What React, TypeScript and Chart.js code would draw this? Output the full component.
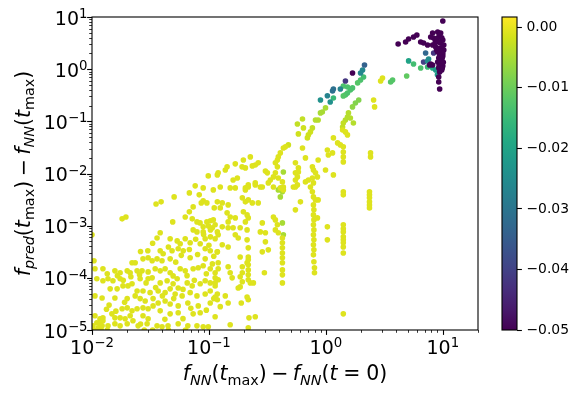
import React, { useEffect, useRef } from 'react';
import { Chart, registerables } from 'chart.js';

Chart.register(...registerables);

const FONT = '"DejaVu Sans", sans-serif';
const VMIN = -0.05;
const VMAX = 0.0017;
const yellowC = -0.0008;
const purpleC = -0.06;

const xTickExps = [-2, -1, 0, 1];
const yTickExps = [-5, -4, -3, -2, -1, 0, 1];
const cbTicks = [0, -0.01, -0.02, -0.03, -0.04, -0.05];
const cbTickLabels = ['0.00', '\u22120.01', '\u22120.02', '\u22120.03', '\u22120.04', '\u22120.05'];

// yellow cloud, lower left
const cloudPoints: number[][] = [
  [0.0987, 9.0e-3], [0.118, 9.4e-3], [0.120, 1.03e-2], [0.0763, 5.8e-3], [0.0893, 5.3e-3], [0.068, 4.25e-3], [0.0826, 3.9e-3], [0.109, 4.85e-3], [0.0504, 3.56e-3], [0.086, 2.73e-3],
  [0.0893, 2.99e-3], [0.096, 2.73e-3], [0.039, 2.86e-3], [0.0353, 2.6e-3], [0.0733, 2.29e-3], [0.111, 2.19e-3], [0.068, 1.84e-3], [0.0627, 1.47e-3], [0.072, 1.35e-3], [0.049, 1.18e-3],
  [0.079, 1.18e-3], [0.084, 1.13e-3], [0.096, 1.18e-3], [0.103, 1.24e-3], [0.109, 1.29e-3], [0.0181, 1.35e-3], [0.0195, 1.47e-3], [0.0893, 9.5e-4], [0.099, 9.9e-4], [0.107, 9.1e-4],
  [0.113, 1.04e-3], [0.0733, 8.3e-4], [0.079, 7.6e-4], [0.0893, 7.6e-4], [0.103, 8.3e-4], [0.118, 7.6e-4], [0.0383, 7.3e-4], [0.103, 6.1e-4], [0.010, 6.7e-4],
  [0.036, 5.8e-4], [0.0466, 5.6e-4], [0.0535, 5.1e-4], [0.0627, 5.6e-4], [0.0691, 4.7e-4], [0.0929, 5.6e-4], [0.113, 5.6e-4], [0.0842, 4.5e-4], [0.0568, 4.5e-4],
  [0.0484, 3.3e-4], [0.0546, 3.6e-4], [0.0603, 3.3e-4], [0.0383, 3.3e-4], [0.0406, 2.9e-4], [0.0691, 2.42e-4], [0.0273, 2.31e-4], [0.0302, 2.42e-4], [0.0327, 2.12e-4], [0.022, 1.94e-4],
  [0.0234, 1.94e-4], [0.036, 2.31e-4], [0.0397, 2.12e-4], [0.0466, 2.31e-4], [0.0929, 3.6e-4], [0.1026, 3.3e-4], [0.118, 3.15e-4], [0.0929, 2.31e-4], [0.107, 1.85e-4], [0.0104, 2.12e-4], [0.0106, 1.49e-4],
  [0.0157, 1.36e-4], [0.0174, 1.25e-4], [0.020, 1.36e-4], [0.0212, 1.25e-4], [0.0243, 1.36e-4], [0.0268, 1.36e-4], [0.0302, 1.3e-4],
  [0.0347, 1.49e-4], [0.0383, 1.36e-4], [0.0422, 1.49e-4], [0.0466, 1.25e-4], [0.0494, 1.09e-4], [0.0535, 9.6e-5], [0.0568, 1.49e-4], [0.0627, 1.36e-4], [0.0733, 1.49e-4], [0.081, 1.56e-4],
  [0.0893, 1.7e-4], [0.1026, 1.49e-4], [0.113, 1.25e-4], [0.120, 1.49e-4],
  [0.011, 9.6e-5], [0.0124, 8.8e-5], [0.0137, 9.6e-5], [0.0151, 8.8e-5], [0.0174, 9.6e-5], [0.0184, 7.0e-5], [0.0203, 7.0e-5], [0.022, 7.7e-5], [0.0258, 9.6e-5], [0.0302, 9.6e-5],
  [0.0327, 1.0e-4], [0.0383, 8.0e-5], [0.0439, 8.8e-5], [0.0494, 7.7e-5], [0.0546, 6.4e-5], [0.0652, 8.0e-5], [0.0719, 7.0e-5], [0.0842, 7.7e-5], [0.0929, 8.8e-5], [0.1026, 8.0e-5], [0.113, 7.0e-5],
  [0.0143, 6.15e-5], [0.0164, 6.15e-5], [0.0243, 5.6e-5], [0.0273, 5.6e-5], [0.0314, 5.2e-5], [0.0368, 5.6e-5], [0.0422, 5.2e-5], [0.0466, 6.15e-5],
  [0.0514, 4.9e-5], [0.059, 4.5e-5], [0.0691, 5.2e-5], [0.079, 4.5e-5], [0.0929, 4.9e-5], [0.1026, 5.6e-5], [0.118, 4.9e-5],
  [0.0106, 4.5e-5], [0.0122, 4.1e-5], [0.0157, 4.1e-5], [0.020, 4.0e-5], [0.0234, 4.5e-5], [0.0258, 4.0e-5], [0.0285, 3.6e-5], [0.0333, 4.0e-5], [0.0368, 3.3e-5], [0.0422, 3.6e-5],
  [0.0466, 3.15e-5], [0.0546, 2.9e-5], [0.066, 3.3e-5], [0.081, 2.9e-5], [0.1026, 3.3e-5],
  [0.0181, 2.55e-5], [0.020, 2.66e-5], [0.022, 2.33e-5], [0.0243, 2.55e-5], [0.0273, 2.66e-5], [0.0302, 2.55e-5], [0.0333, 2.9e-5], [0.0383, 2.33e-5], [0.0466, 2.04e-5], [0.0546, 2.14e-5],
  [0.0733, 2.04e-5], [0.0842, 2.14e-5],
  [0.0106, 1.87e-5], [0.0117, 1.64e-5], [0.0124, 1.71e-5], [0.0148, 2.04e-5], [0.0157, 1.71e-5], [0.0174, 1.71e-5], [0.0192, 1.64e-5], [0.0212, 1.87e-5], [0.0224, 1.5e-5], [0.0273, 1.87e-5], [0.0302, 1.64e-5],
  [0.011, 1.37e-5], [0.0117, 1.32e-5], [0.0124, 1.5e-5], [0.0102, 1.2e-5], [0.0113, 1.1e-5], [0.0122, 1.2e-5], [0.0137, 1.2e-5], [0.0157, 1.32e-5], [0.0174, 1.2e-5], [0.020, 1.32e-5],
  [0.0248, 1.2e-5], [0.0296, 1.32e-5], [0.036, 1.2e-5], [0.0397, 1.15e-5], [0.0447, 1.2e-5], [0.0546, 1.32e-5], [0.066, 1.2e-5], [0.079, 1.2e-5], [0.0893, 1.15e-5], [0.0987, 1.15e-5],
  [0.0104, 1.0e-5], [0.012, 1.0e-5], [0.0135, 1.0e-5], [0.028, 1.0e-5], [0.033, 1.0e-5], [0.045, 1.0e-5], [0.063, 1.0e-5],
  [0.0124, 1.49e-4], [0.0135, 1.2e-4], [0.0165, 1.1e-4], [0.0185, 9.0e-5], [0.0215, 1.05e-4], [0.0255, 1.15e-4], [0.029, 8.0e-5], [0.035, 6.5e-5], [0.04, 4.5e-5], [0.05, 4.0e-5],
  [0.06, 6.0e-5], [0.075, 9.0e-5], [0.065, 1.1e-4], [0.052, 2.0e-4], [0.058, 2.7e-4], [0.045, 3.9e-4], [0.068, 3.5e-4], [0.077, 5.5e-4], [0.09, 6.8e-4], [0.1, 4.2e-4],
  [0.08, 2.8e-4], [0.095, 1.2e-4], [0.11, 2.6e-4], [0.03, 3.3e-4], [0.033, 4.6e-4], [0.026, 3.2e-4], [0.016, 2.3e-5], [0.014, 3.0e-5], [0.019, 3.4e-5], [0.0133, 2.5e-5],
  [0.026, 1.3e-5], [0.06, 1.65e-5], [0.07, 2.6e-5], [0.095, 2.4e-5], [0.11, 4.0e-5], [0.042, 1.6e-5],
];

// yellow points, middle band and vertical streaks
const midPoints: number[][] = [
  [0.451, 0.0324], [0.433, 0.0309], [0.631, 0.0309], [0.408, 0.0248], [0.392, 0.0208], [0.385, 0.0182], [0.370, 0.016], [0.385, 0.0134],
  [0.669, 0.0199], [0.859, 0.0182], [0.226, 0.0208], [0.197, 0.0182], [0.192, 0.0134], [0.264, 0.016], [0.249, 0.0146], [0.235, 0.014], [0.168, 0.0153], [0.143, 0.0134], [0.138, 0.0117],
  [0.304, 0.0112], [0.316, 0.0103], [0.205, 0.0128], [0.549, 0.0103], [0.582, 0.0107], [0.571, 8.6e-3], [0.767, 0.0134], [0.783, 0.0117], [0.815, 0.0103], [0.847, 8.6e-3], [0.993, 0.0117],
  [0.370, 0.0103], [0.356, 8.6e-3], [0.335, 7.5e-3], [0.322, 6.6e-3], [0.392, 8.2e-3], [0.425, 6.9e-3], [0.433, 5.5e-3], [0.549, 7.5e-3], [0.571, 6.05e-3], [0.527, 5.5e-3],
  [0.669, 6.9e-3], [0.709, 7.5e-3], [0.767, 8.2e-3], [0.783, 6.6e-3], [0.175, 8.2e-3], [0.161, 7.5e-3], [0.249, 6.6e-3], [0.217, 6.05e-3], [0.205, 5.3e-3], [0.125, 5.5e-3], [0.152, 5.3e-3], [0.168, 5.3e-3],
  [0.286, 5.5e-3], [0.356, 5.5e-3], [0.408, 5.3e-3], [0.549, 0.016], [0.582, 0.0128],
  [0.205, 4.85e-3], [0.217, 5.5e-3], [0.249, 6.05e-3], [0.275, 5.5e-3], [0.433, 4.85e-3], [0.549, 5.5e-3], [0.738, 5.5e-3], [0.767, 4.45e-3], [0.783, 3.56e-3], [0.815, 3.12e-3], [0.859, 3.12e-3], [0.606, 2.86e-3], [0.549, 2.01e-3],
  [0.118, 2.86e-3], [0.130, 2.73e-3], [0.146, 2.5e-3], [0.125, 2.19e-3], [0.193, 3.41e-3], [0.205, 2.86e-3], [0.217, 3.12e-3], [0.235, 2.73e-3], [0.264, 2.73e-3],
  [0.143, 1.76e-3], [0.152, 1.47e-3], [0.168, 1.41e-3], [0.146, 1.18e-3], [0.197, 1.84e-3], [0.212, 1.61e-3], [0.217, 1.41e-3], [0.205, 1.18e-3],
  [0.130, 9.5e-4], [0.146, 9.1e-4], [0.161, 9.1e-4], [0.185, 9.1e-4], [0.212, 8.3e-4], [0.286, 1.13e-3], [0.275, 7.6e-4], [0.304, 7.3e-4],
  [0.356, 1.47e-3], [0.370, 1.29e-3], [0.385, 1.04e-3], [0.370, 8.3e-4], [0.392, 7.3e-4],
  [0.425, 5.8e-4], [0.425, 4.7e-4], [0.425, 3.76e-4], [0.425, 3.0e-4], [0.425, 2.42e-4], [0.425, 1.94e-4], [0.425, 1.42e-4], [0.425, 1.14e-4], [0.425, 8.0e-5],
  [0.783, 2.5e-3], [0.79, 2.01e-3], [0.783, 1.61e-3], [0.79, 1.29e-3], [0.783, 1.04e-3], [0.79, 8.3e-4], [0.783, 6.7e-4], [0.79, 5.35e-4], [0.783, 4.3e-4], [0.79, 3.44e-4],
  [0.783, 2.76e-4], [0.79, 2.03e-4], [0.799, 1.56e-4], [0.799, 1.25e-4],
  [0.847, 1.41e-3], [1.03, 9.5e-4], [1.03, 5.35e-4],
  [0.120, 6.7e-4], [0.130, 4.3e-4], [0.146, 3.9e-4], [0.168, 6.7e-4], [0.178, 5.8e-4], [0.212, 5.35e-4], [0.217, 3.76e-4], [0.185, 2.5e-4], [0.217, 2.5e-4], [0.212, 1.94e-4],
  [0.304, 4.9e-4], [0.286, 3.15e-4], [0.322, 3.44e-4], [0.118, 3.15e-4], [0.120, 1.94e-4],
  [0.146, 1.63e-4], [0.152, 1.25e-4], [0.158, 1.0e-4], [0.193, 1.63e-4], [0.193, 1.25e-4], [0.185, 1.05e-4], [0.193, 8.4e-5], [0.185, 6.7e-5], [0.178, 6.4e-5],
  [0.217, 2.21e-4], [0.217, 1.78e-4], [0.217, 1.42e-4], [0.217, 1.14e-4], [0.217, 9.2e-5], [0.226, 8.0e-5], [0.240, 8.0e-5], [0.298, 1.25e-4],
  [0.113, 1.0e-4], [0.120, 9.2e-5], [0.113, 8.0e-5], [0.113, 4.3e-5], [0.118, 3.8e-5], [0.125, 2.8e-5], [0.138, 4.5e-5], [0.146, 3.3e-5], [0.189, 3.3e-5], [0.212, 4.3e-5], [0.217, 3.8e-5],
  [0.113, 1.79e-5], [0.152, 1.26e-5], [0.220, 1.71e-5], [0.249, 1.79e-5], [0.217, 1.1e-5],
  [2.56, 0.257], [2.61, 0.189], [3.05, 0.678], [2.94, 0.594],
  [1.39, 0.0684], [1.47, 0.0627], [1.53, 0.0549], [1.16, 0.0481], [1.26, 0.0386], [1.33, 0.0353], [1.41, 0.0324], [1.41, 0.0259], [1.41, 0.0208], [1.41, 0.0167],
  [1.03, 0.0283], [1.14, 0.0248], [1.05, 0.0227], [2.41, 0.0248], [2.41, 0.0208], [1.16, 9.4e-3], [1.41, 4.45e-3], [1.41, 3.9e-3],
  [2.36, 4.45e-3], [2.36, 3.9e-3], [2.36, 3.41e-3], [2.36, 2.86e-3], [2.36, 2.5e-3], [2.36, 2.19e-3],
  [1.41, 1.04e-3], [1.41, 8.7e-4], [1.41, 7.6e-4], [1.41, 6.1e-4], [1.41, 5.35e-4], [1.41, 4.7e-4], [1.41, 3.9e-4], [1.41, 3.0e-4], [1.41, 2.04e-5],
];

// coloured points along the upper arm: [x, y, colour value]
const armPoints: number[][] = [
  [0.571, 0.0891, -0.003], [0.631, 0.111, -0.003], [0.643, 0.0748, -0.002], [0.767, 0.0748, -0.003], [0.738, 0.0627, -0.002], [0.709, 0.0549, -0.002], [0.695, 0.0481, -0.002], [0.582, 0.0574, -0.002], [0.478, 0.0353, -0.002],
  [0.859, 0.106, -0.004], [0.815, 0.106, -0.004], [0.993, 0.181, -0.005], [0.933, 0.151, -0.005], [0.899, 0.145, -0.005],
  [1.56, 0.145, -0.004], [1.53, 0.121, -0.004], [1.47, 0.106, -0.004], [1.41, 0.0931, -0.003], [1.39, 0.0781, -0.003], [1.62, 0.116, -0.004], [1.72, 0.0931, -0.004],
  [0.433, 0.0107, -0.005], [0.392, 4.85e-3, -0.005], [0.425, 4.45e-3, -0.005], [0.408, 3.56e-3, -0.005], [0.425, 1.13e-3, -0.005], [0.433, 6.7e-4, -0.005],
  [1.91, 0.257, -0.008], [1.79, 0.225, -0.008], [1.69, 0.189, -0.007],
  [1.41, 0.477, -0.013], [1.53, 0.456, -0.013], [1.62, 0.400, -0.013], [1.53, 0.350, -0.013], [1.47, 0.321, -0.013], [1.69, 0.437, -0.013], [1.41, 0.307, -0.012],
  [1.98, 0.621, -0.013], [2.10, 0.709, -0.014], [1.87, 0.545, -0.012], [1.16, 0.281, -0.015],
  [3.72, 0.621, -0.012], [3.58, 0.569, -0.012], [4.91, 0.741, -0.011],
  [0.899, 0.257, -0.024], [1.09, 0.235, -0.024], [1.03, 0.31, -0.027], [1.33, 0.418, -0.027], [1.16, 0.418, -0.031], [1.14, 0.382, -0.031],
  [2.06, 0.966, -0.026], [1.98, 0.845, -0.026], [2.14, 1.20, -0.034], [1.69, 0.845, -0.05], [1.47, 0.594, -0.042],
];

// dark cluster at the top right (below colour range)
const topPoints: number[][] = [
  [10.0, 8.4], [4.15, 3.04], [4.81, 3.32], [5.1, 3.79], [5.62, 4.14], [6.0, 4.52], [6.47, 3.32], [6.85, 3.17], [7.41, 2.91], [8.18, 4.94],
  [9.04, 5.17], [9.59, 4.94], [8.35, 3.96], [9.23, 4.14], [8.18, 2.91], [8.69, 2.66], [9.59, 3.17], [10.2, 2.91], [9.04, 2.14], [9.59, 1.96],
  [10.0, 1.79], [9.23, 1.64], [9.8, 1.50], [9.04, 1.37], [9.59, 1.26], [10.0, 1.15], [9.23, 1.05], [9.8, 0.966], [9.4, 0.883], [8.69, 3.63],
  [10.0, 3.63], [7.88, 4.14], [8.85, 2.33], [10.2, 2.33], [8.18, 1.20], [7.88, 1.26], [7.7, 1.20], [9.23, 0.569], [9.4, 0.418], [9.23, 0.709],
  [9.4, 4.5], [9.8, 4.0], [9.2, 3.3], [9.8, 2.6], [9.3, 2.5], [9.6, 2.2], [10.0, 2.0], [9.4, 1.85], [9.9, 1.68], [9.5, 1.45], [10.1, 1.35], [9.3, 1.15], [9.9, 1.05], [8.6, 3.2], [8.9, 3.8],
];

// coloured points mixed into the top-right cluster: [x, y, colour value]
const clusterPoints: number[][] = [
  [5.1, 1.44, -0.02], [5.62, 1.26, -0.014], [6.47, 1.05, -0.013], [7.41, 1.10, -0.015], [8.18, 1.05, -0.018], [8.69, 0.966, -0.022], [9.0, 0.78, -0.022],
  [7.13, 2.04, -0.033], [8.35, 2.04, -0.042], [6.85, 1.37, -0.04], [7.56, 1.57, -0.025], [7.41, 1.43, -0.025],
];

const VIRIDIS = ['#440154', '#481a6c', '#472f7d', '#414487', '#39568c', '#31688e', '#2a788e', '#23888e', '#1f988b', '#22a884', '#35b779', '#54c568', '#7ad151', '#a5db36', '#d2e21b', '#fde725'];

function hexRgb(h: string) {
  return [parseInt(h.slice(1, 3), 16), parseInt(h.slice(3, 5), 16), parseInt(h.slice(5, 7), 16)];
}
function viridis(t: number) {
  const tt = Math.max(0, Math.min(1, t));
  const n = VIRIDIS.length - 1;
  const p = tt * n;
  const i = Math.min(n - 1, Math.floor(p));
  const f = p - i;
  const a = hexRgb(VIRIDIS[i]);
  const b = hexRgb(VIRIDIS[i + 1]);
  const c = a.map((v, k) => Math.round(v + (b[k] - v) * f));
  return `rgb(${c[0]},${c[1]},${c[2]})`;
}
function colorFor(c: number) {
  return viridis((c - VMIN) / (VMAX - VMIN));
}

type Seg = { t: string; it?: boolean; sub?: boolean; pre?: number; post?: number };
function segFont(s: Seg, size: number) {
  const sz = s.sub ? size * 0.7 : size;
  return `${s.it ? 'italic ' : ''}${sz}px ${FONT}`;
}
function segsWidth(ctx: CanvasRenderingContext2D, segs: Seg[], size: number) {
  let w = 0;
  for (const s of segs) {
    ctx.font = segFont(s, size);
    w += (s.pre || 0) * size + ctx.measureText(s.t).width + (s.post || 0) * size;
  }
  return w;
}
function drawSegs(ctx: CanvasRenderingContext2D, segs: Seg[], xc: number, y: number, size: number) {
  let x = xc - segsWidth(ctx, segs, size) / 2;
  ctx.textAlign = 'left';
  ctx.textBaseline = 'alphabetic';
  for (const s of segs) {
    ctx.font = segFont(s, size);
    x += (s.pre || 0) * size;
    ctx.fillText(s.t, x, y + (s.sub ? size * 0.22 : 0));
    x += ctx.measureText(s.t).width + (s.post || 0) * size;
  }
}

const xLabel: Seg[] = [
  { t: 'f', it: true }, { t: 'NN', it: true, sub: true }, { t: '(' }, { t: 't', it: true }, { t: 'max', sub: true }, { t: ')' },
  { t: '\u2212', pre: 0.22, post: 0.22 },
  { t: 'f', it: true }, { t: 'NN', it: true, sub: true }, { t: '(' }, { t: 't', it: true }, { t: '=', pre: 0.28, post: 0.28 }, { t: '0' }, { t: ')' },
];
const yLabel: Seg[] = [
  { t: 'f', it: true }, { t: 'pred', it: true, sub: true }, { t: '(' }, { t: 't', it: true }, { t: 'max', sub: true }, { t: ')' },
  { t: '\u2212', pre: 0.22, post: 0.22 },
  { t: 'f', it: true }, { t: 'NN', it: true, sub: true }, { t: '(' }, { t: 't', it: true }, { t: 'max', sub: true }, { t: ')' },
];

const TICK = 19;
const LABEL = 20.5;

function drawPow(ctx: CanvasRenderingContext2D, exp: number, x: number, baseline: number, align: 'center' | 'right') {
  const base = '10';
  const e = exp < 0 ? '\u2212' + String(-exp) : String(exp);
  ctx.font = `${TICK}px ${FONT}`;
  const wb = ctx.measureText(base).width;
  ctx.font = `${TICK * 0.7}px ${FONT}`;
  const we = ctx.measureText(e).width;
  const total = wb + we;
  const x0 = align === 'center' ? x - total / 2 : x - total;
  ctx.textAlign = 'left';
  ctx.textBaseline = 'alphabetic';
  ctx.font = `${TICK}px ${FONT}`;
  ctx.fillText(base, x0, baseline);
  ctx.font = `${TICK * 0.7}px ${FONT}`;
  ctx.fillText(e, x0 + wb, baseline - 6.5);
}

const axesPlugin = {
  id: 'mplAxes',
  afterDraw(chart: any) {
    const ctx: CanvasRenderingContext2D = chart.ctx;
    const { left, right, top, bottom } = chart.chartArea;
    const xs = chart.scales.x;
    const ys = chart.scales.y;
    ctx.save();
    ctx.strokeStyle = '#000';
    ctx.fillStyle = '#000';
    ctx.lineWidth = 1.1;
    ctx.strokeRect(left, top, right - left, bottom - top);
    for (const k of xTickExps) {
      for (let m = 1; m <= 9; m++) {
        const v = m * Math.pow(10, k);
        if (v < xs.min * 0.999 || v > xs.max * 1.001) continue;
        const px = Math.round(xs.getPixelForValue(v)) + 0.5;
        ctx.lineWidth = m === 1 ? 1.1 : 0.8;
        ctx.beginPath();
        ctx.moveTo(px, bottom);
        ctx.lineTo(px, bottom + (m === 1 ? 4.9 : 2.8));
        ctx.stroke();
      }
      drawPow(ctx, k, xs.getPixelForValue(Math.pow(10, k)), 353.5, 'center');
    }
    for (const k of yTickExps) {
      for (let m = 1; m <= 9; m++) {
        const v = m * Math.pow(10, k);
        if (v < ys.min * 0.999 || v > ys.max * 1.001) continue;
        const py = Math.round(ys.getPixelForValue(v)) + 0.5;
        ctx.lineWidth = m === 1 ? 1.1 : 0.8;
        ctx.beginPath();
        ctx.moveTo(left, py);
        ctx.lineTo(left - (m === 1 ? 4.9 : 2.8), py);
        ctx.stroke();
      }
      drawPow(ctx, k, 87.5, ys.getPixelForValue(Math.pow(10, k)) + 7.5, 'right');
    }
    drawSegs(ctx, xLabel, (left + right) / 2, 380, LABEL);
    ctx.translate(29.5, (top + bottom) / 2);
    ctx.rotate(-Math.PI / 2);
    drawSegs(ctx, yLabel, 0, 0, LABEL);
    ctx.restore();
  },
};

const cbPlugin = {
  id: 'cbFill',
  afterDraw(chart: any) {
    const ctx: CanvasRenderingContext2D = chart.ctx;
    const { left, right, top, bottom } = chart.chartArea;
    ctx.save();
    const g = ctx.createLinearGradient(0, bottom, 0, top);
    VIRIDIS.forEach((c, i) => g.addColorStop(i / (VIRIDIS.length - 1), c));
    ctx.fillStyle = g;
    ctx.fillRect(left, top, right - left, bottom - top);
    ctx.strokeStyle = '#000';
    ctx.lineWidth = 1.1;
    ctx.strokeRect(left, top, right - left, bottom - top);
    ctx.restore();
  },
};

function toPts(list: number[][]) {
  return list.map((p) => ({ x: p[0], y: p[1] }));
}

export default function App() {
  const mainRef = useRef<HTMLCanvasElement | null>(null);
  const cbRef = useRef<HTMLCanvasElement | null>(null);

  useEffect(() => {
    const yellow = colorFor(yellowC);
    const purple = colorFor(purpleC);
    const yellowPts = [...cloudPoints, ...midPoints];
    const mk = (data: any[], colors: string[]) => ({
      data,
      pointRadius: 2.8,
      pointHoverRadius: 2.8,
      pointBorderWidth: 0,
      pointBackgroundColor: colors,
      pointBorderColor: colors,
      clip: 0,
    });
    const main = new Chart(mainRef.current as HTMLCanvasElement, {
      type: 'scatter',
      data: {
        datasets: [
          mk(toPts(yellowPts), yellowPts.map(() => yellow)),
          mk(toPts(armPoints), armPoints.map((p) => colorFor(p[2]))),
          mk(toPts(topPoints), topPoints.map(() => purple)),
          mk(toPts(clusterPoints), clusterPoints.map((p) => colorFor(p[2]))),
        ] as any,
      },
      options: {
        responsive: false,
        animation: false,
        devicePixelRatio: 1,
        events: [],
        layout: { padding: { left: 92, top: 17, right: 104, bottom: 65 } },
        scales: {
          x: { type: 'logarithmic', min: 0.01, max: 20, display: false },
          y: { type: 'logarithmic', min: 1e-5, max: 10, display: false },
        },
        plugins: { legend: { display: false }, tooltip: { enabled: false } },
      } as any,
      plugins: [axesPlugin],
    });

    const cb = new Chart(cbRef.current as HTMLCanvasElement, {
      type: 'scatter',
      data: { datasets: [] },
      options: {
        responsive: false,
        animation: false,
        devicePixelRatio: 1,
        events: [],
        layout: { padding: { left: 502, top: 17, right: 0, bottom: 65 } },
        scales: {
          x: { display: false, min: 0, max: 1 },
          y: {
            type: 'linear',
            position: 'right',
            min: VMIN,
            max: VMAX,
            afterBuildTicks: (s: any) => {
              s.ticks = cbTicks.map((v) => ({ value: v }));
            },
            afterFit: (s: any) => {
              s.width = 65;
            },
            ticks: {
              callback: (_v: any, i: number) => cbTickLabels[i],
              font: { family: 'DejaVu Sans', size: 13.9 },
              color: '#000',
              padding: 4.5,
            },
            grid: { drawOnChartArea: false, drawTicks: true, tickLength: 4.9, tickWidth: 1.1, tickColor: '#000' },
            border: { display: false },
          },
        },
        plugins: { legend: { display: false }, tooltip: { enabled: false } },
      } as any,
      plugins: [cbPlugin],
    });

    return () => {
      main.destroy();
      cb.destroy();
    };
  }, []);

  const cstyle: React.CSSProperties = { position: 'absolute', left: 0, top: 0, width: 582, height: 395 };
  return (
    <div style={{ position: 'absolute', left: 0, top: 0, width: 582, height: 395, background: '#fff' }}>
      <canvas ref={mainRef} width={582} height={395} style={cstyle} />
      <canvas ref={cbRef} width={582} height={395} style={cstyle} />
    </div>
  );
}
